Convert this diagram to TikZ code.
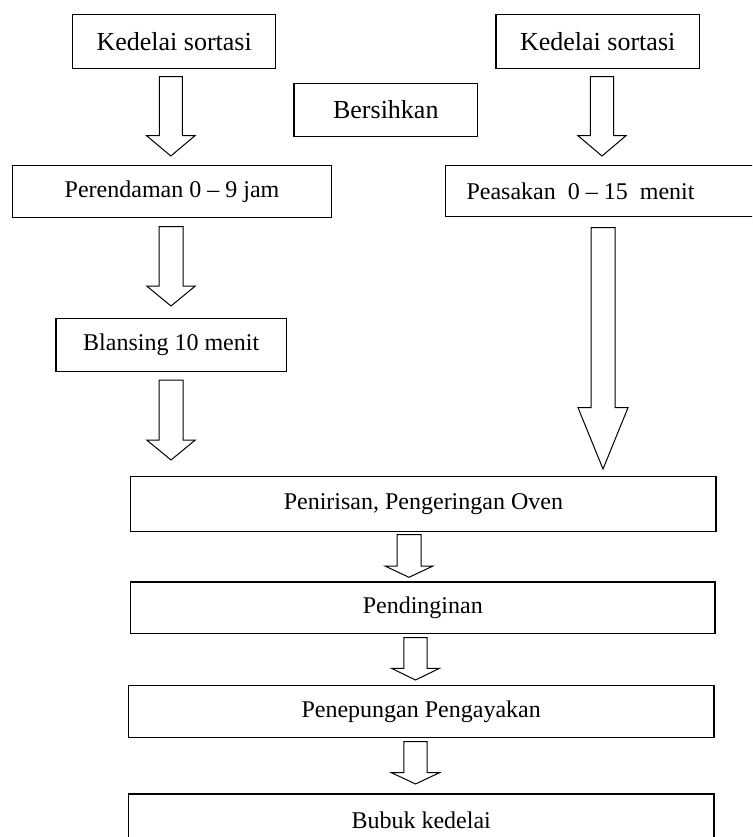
\documentclass[tikz,border=0pt]{standalone}
\usepackage{fontspec}
\setmainfont{Liberation Serif}
\tikzset{
  box/.style={draw, line width=1.3pt, inner sep=0pt, font=\fontsize{24}{28}\selectfont},
  txt/.style={inner sep=0pt, font=\fontsize{24}{28}\selectfont},
  bigtxt/.style={font=\fontsize{26}{30}\selectfont},
  arr/.style={draw, line width=1pt, fill=white, line join=miter},
}
% cx, top, headstart, tip, shafthalf, headhalf
\newcommand\blockarr[6]{%
  \draw[arr] ({#1-#5},#2) -- ({#1+#5},#2) -- ({#1+#5},#3) -- ({#1+#6},#3)
    -- (#1,#4) -- ({#1-#6},#3) -- ({#1-#5},#3) -- cycle;}
\begin{document}
\begin{tikzpicture}[x=1pt,y=-1pt]
\useasboundingbox (0,0) rectangle (752,837);
\clip (0,0) rectangle (752,837);
\fill[white] (0,0) rectangle (752,837);
% boxes
\node[box, bigtxt, minimum width=203pt, minimum height=54pt] (k1) at (174.2,41.3) {Kedelai sortasi};
\node[box, bigtxt, minimum width=203.3pt, minimum height=54pt] (k2) at (597.7,41.3) {Kedelai sortasi};
\node[box, bigtxt, minimum width=183.7pt, minimum height=53.4pt] (bers) at (385.8,110) {Bersihkan};
\node[box, minimum width=319.4pt, minimum height=51.6pt] (per) at (172,191.5) {Perendaman 0 -- 9 jam};
\node[box, minimum width=320pt, minimum height=51pt] (peas) at (605.3,191.2) {};
\node[txt] (peastxt) at (580.5,191.2) {Peasakan\ \ 0 -- 15\ \ menit};
\node[box, minimum width=230.4pt, minimum height=53.4pt] (blan) at (171.2,345) {Blansing 10 menit};
\node[box, minimum width=585.3pt, minimum height=55pt] (pen) at (423.4,504.2) {Penirisan, Pengeringan Oven};
\node[box, minimum width=584.5pt, minimum height=51.7pt] (pend) at (422.8,607.9) {Pendinginan};
\node[box, minimum width=585.6pt, minimum height=52pt] (pene) at (421.2,711.7) {Penepungan Pengayakan};
\node[box, minimum width=585.6pt, minimum height=52pt] (bub) at (421.2,820) {Bubuk kedelai};
% block arrows
\blockarr{170.8}{76.7}{135.7}{156}{11.5}{24.2}
\blockarr{602}{76.7}{135.7}{156}{11.7}{24}
\blockarr{171}{226.7}{286}{306}{12}{24.3}
\blockarr{171}{380}{440}{460}{12}{24.3}
\blockarr{603}{227.7}{407.7}{469}{12}{25}
\blockarr{409}{534.5}{566}{577.3}{12}{24}
\blockarr{415.5}{637.7}{668.3}{680}{11.7}{24}
\blockarr{415.5}{741.7}{772.7}{784}{11.7}{24}
\end{tikzpicture}
\end{document}
